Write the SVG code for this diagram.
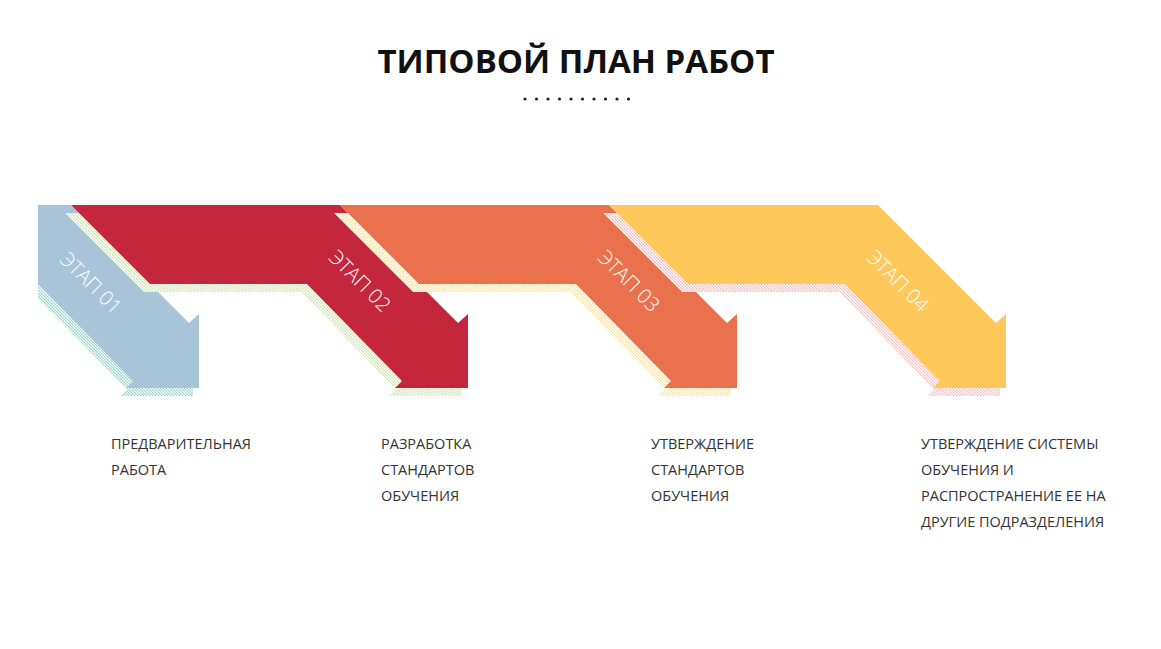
<svg xmlns="http://www.w3.org/2000/svg" width="1161" height="649" viewBox="0 0 1161 649">
<defs>
<style>
.lbl{font-family:"Open Sans","Liberation Sans",sans-serif;font-size:20px;fill:#fff;text-anchor:middle;font-weight:300}
.desc{font-family:"Open Sans","Liberation Sans",sans-serif;font-size:14.5px;fill:#333}
</style>
<pattern id="h1" width="3" height="3" patternUnits="userSpaceOnUse"><rect width="3" height="3" fill="#fff"/><path d="M0 0L3 3" stroke="#8fd9c8" stroke-width="1.2"/></pattern>
<pattern id="h2" width="3" height="3" patternUnits="userSpaceOnUse"><rect width="3" height="3" fill="#fff"/><path d="M0 0L3 3" stroke="#cfe5b0" stroke-width="1.2"/></pattern>
<pattern id="h3" width="3" height="3" patternUnits="userSpaceOnUse"><rect width="3" height="3" fill="#fff"/><path d="M0 0L3 3" stroke="#fbe39a" stroke-width="1.2"/></pattern>
<pattern id="h4" width="3" height="3" patternUnits="userSpaceOnUse"><rect width="3" height="3" fill="#fff"/><path d="M0 0L3 3" stroke="#f6bcbc" stroke-width="1.2"/></pattern>
<polygon id="arr" points="-269,205 0,205 118,323 128,314 128,388 55,388 62,381 -33,284 -190,284"/>
<clipPath id="cl"><rect x="38" y="0" width="1123" height="649"/></clipPath>
<clipPath id="ct"><rect x="0" y="0" width="1113" height="649"/></clipPath>
</defs>
<rect width="1161" height="649" fill="#fff"/>
<text x="576" y="73" font-family="'Open Sans','Liberation Sans',sans-serif" font-size="33" font-weight="bold" fill="#111" text-anchor="middle">ТИПОВОЙ ПЛАН РАБОТ</text>
<g fill="#222">
<circle cx="525" cy="99" r="1.6"/><circle cx="536.5" cy="99" r="1.6"/><circle cx="548" cy="99" r="1.6"/><circle cx="559.5" cy="99" r="1.6"/><circle cx="571" cy="99" r="1.6"/><circle cx="582.5" cy="99" r="1.6"/><circle cx="594" cy="99" r="1.6"/><circle cx="605.5" cy="99" r="1.6"/><circle cx="617" cy="99" r="1.6"/><circle cx="628.5" cy="99" r="1.6"/>
</g>
<g clip-path="url(#cl)">
<g id="stage1">
<use href="#arr" x="65" y="8" fill="url(#h1)"/>
<use href="#arr" x="71" fill="#a7c4d8"/>
<text class="lbl" transform="translate(91,283) rotate(45)" dy="7">ЭТАП 01</text>
</g>
<g id="stage2">
<use href="#arr" x="334" y="8" fill="url(#h2)"/>
<use href="#arr" x="340" fill="#c4263c"/>
<text class="lbl" transform="translate(360,281) rotate(45)" dy="7">ЭТАП 02</text>
</g>
<g id="stage3">
<use href="#arr" x="603" y="8" fill="url(#h3)"/>
<use href="#arr" x="609" fill="#e9714d"/>
<text class="lbl" transform="translate(629,281) rotate(45)" dy="7">ЭТАП 03</text>
</g>
<g id="stage4">
<use href="#arr" x="872" y="8" fill="url(#h4)"/>
<use href="#arr" x="878" fill="#fec95a"/>
<text class="lbl" transform="translate(898,281) rotate(45)" dy="7">ЭТАП 04</text>
</g>
</g>
<g id="connectors"/>
<g id="descs" class="desc" clip-path="url(#ct)">
<text x="111" y="449">ПРЕДВАРИТЕЛЬНАЯ</text><text x="111" y="475">РАБОТА</text>
<text x="381" y="449">РАЗРАБОТКА</text><text x="381" y="475">СТАНДАРТОВ</text><text x="381" y="501">ОБУЧЕНИЯ</text>
<text x="651" y="449">УТВЕРЖДЕНИЕ</text><text x="651" y="475">СТАНДАРТОВ</text><text x="651" y="501">ОБУЧЕНИЯ</text>
<text x="921" y="449">УТВЕРЖДЕНИЕ СИСТЕМЫ</text><text x="921" y="475">ОБУЧЕНИЯ И</text><text x="921" y="501">РАСПРОСТРАНЕНИЕ ЕЕ НА</text><text x="921" y="527">ДРУГИЕ ПОДРАЗДЕЛЕНИЯ</text>
</g>
</svg>
